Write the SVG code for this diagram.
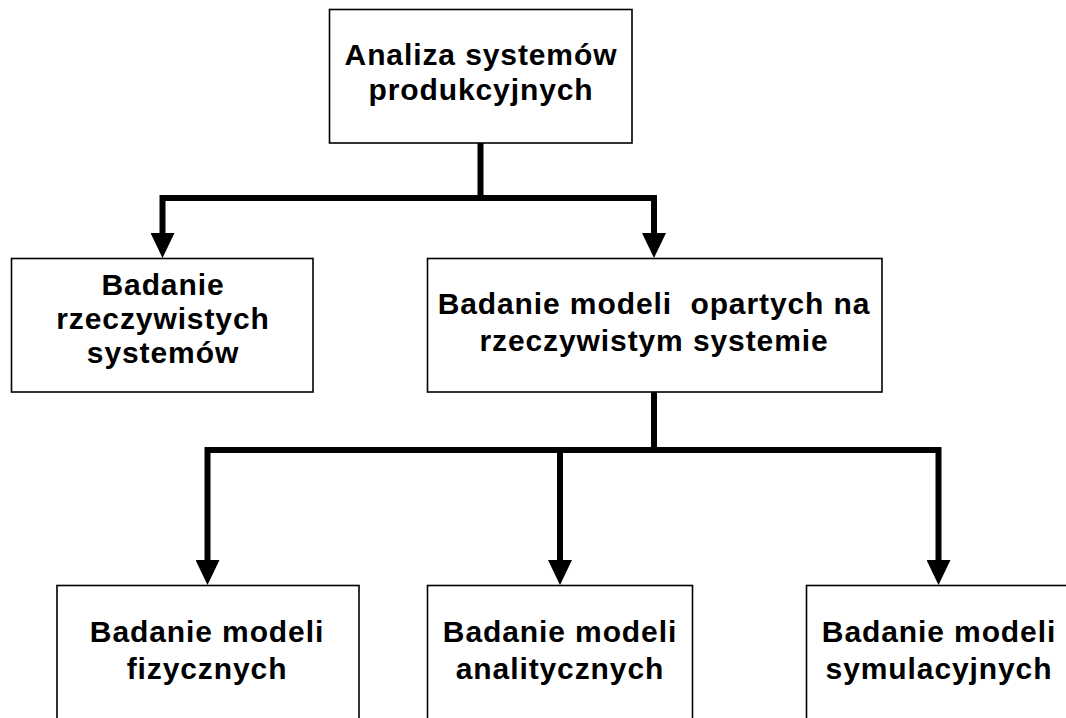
<svg xmlns="http://www.w3.org/2000/svg" width="1066" height="718" viewBox="0 0 1066 718">
  <style>
    .box { fill: #ffffff; stroke: #000000; stroke-width: 1.6; }
    .lbl { font-family: "Liberation Sans", Arial, sans-serif; font-weight: bold; font-size: 30px; letter-spacing: 0.9px; fill: #000000; text-anchor: middle; }
    .conn { fill: none; stroke: #000000; stroke-width: 6; stroke-linejoin: miter; stroke-linecap: butt; }
  </style>
  <defs>
    <marker id="arrow" markerUnits="userSpaceOnUse" viewBox="0 0 25 24" markerWidth="25" markerHeight="24" refX="13" refY="12" orient="auto">
      <path d="M0,0 L25,12 L0,24 z" fill="#000000"/>
    </marker>
  </defs>
  <rect width="1066" height="718" fill="#ffffff"/>

  <!-- connectors -->
  <g id="connectors">
    <path class="conn" d="M480.5,143 V198 H162.5 V246" marker-end="url(#arrow)"/>
    <path class="conn" d="M480.5,198 H654 V246" marker-end="url(#arrow)"/>
    <path class="conn" d="M654,392 V450 H207.5 V573" marker-end="url(#arrow)"/>
    <path class="conn" d="M560,450 V573" marker-end="url(#arrow)"/>
    <path class="conn" d="M654,450 H938.5 V573" marker-end="url(#arrow)"/>
  </g>

  <g id="analiza">
    <rect class="box" x="329.5" y="9.5" width="302.5" height="133.5"/>
    <text class="lbl" x="481" y="65">Analiza systemów</text>
    <text class="lbl" x="481" y="100">produkcyjnych</text>
  </g>

  <g id="badanie-rzeczywistych">
    <rect class="box" x="11.5" y="258.5" width="301.5" height="133.5"/>
    <text class="lbl" x="163" y="295">Badanie</text>
    <text class="lbl" x="163" y="329">rzeczywistych</text>
    <text class="lbl" x="163" y="363">systemów</text>
  </g>

  <g id="badanie-modeli">
    <rect class="box" x="427.5" y="258.5" width="454.5" height="133.5"/>
    <text class="lbl" x="654" y="314" xml:space="preserve">Badanie modeli  opartych na</text>
    <text class="lbl" x="654" y="351">rzeczywistym systemie</text>
  </g>

  <g id="modele-fizyczne">
    <rect class="box" x="57" y="585.5" width="302" height="150"/>
    <text class="lbl" x="207" y="642">Badanie modeli</text>
    <text class="lbl" x="207" y="679">fizycznych</text>
  </g>

  <g id="modele-analityczne">
    <rect class="box" x="427.5" y="585.5" width="265" height="150"/>
    <text class="lbl" x="560" y="642">Badanie modeli</text>
    <text class="lbl" x="560" y="679">analitycznych</text>
  </g>

  <g id="modele-symulacyjne">
    <rect class="box" x="806.5" y="585.5" width="266" height="150"/>
    <text class="lbl" x="939" y="642">Badanie modeli</text>
    <text class="lbl" x="939" y="679">symulacyjnych</text>
  </g>
</svg>
